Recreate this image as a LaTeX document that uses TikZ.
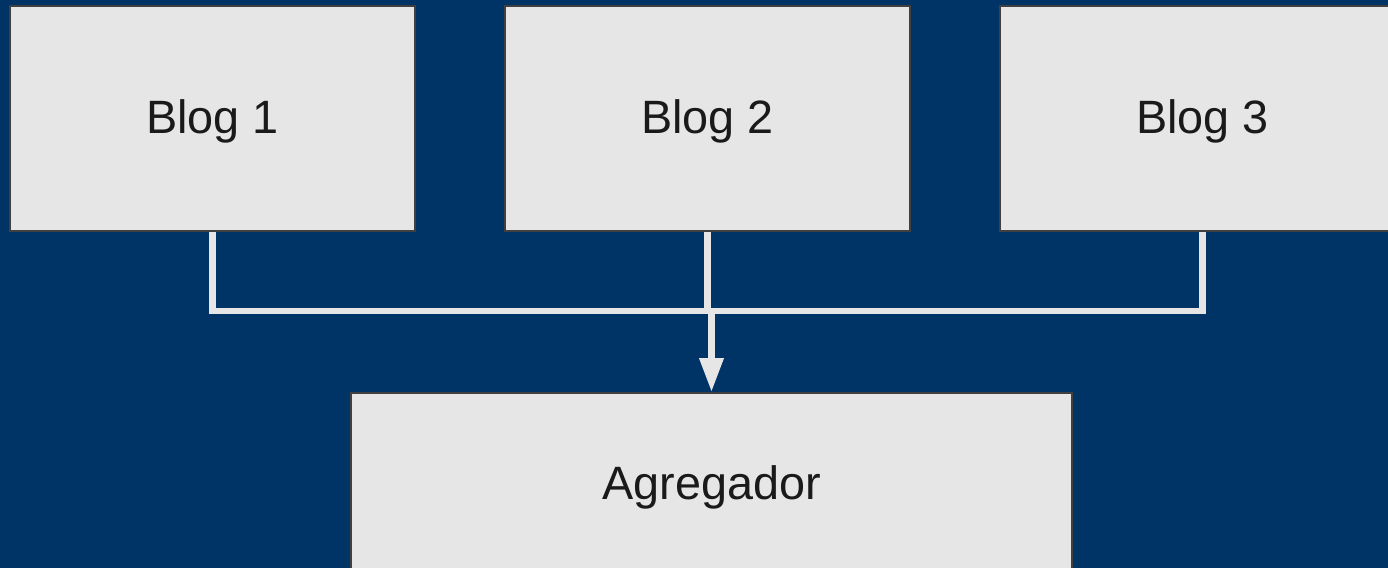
\documentclass[tikz,border=0pt]{standalone}
\usepackage{fontspec}
\setmainfont{Liberation Sans}
\usepackage{tikz}
\usetikzlibrary{arrows.meta,positioning}
\definecolor{bgblue}{HTML}{003366}
\definecolor{boxgray}{HTML}{E6E6E6}
\definecolor{txtgray}{HTML}{1A1A1A}
\tikzset{
     blog/.style={draw=black!75, fill=boxgray, line width=0.5pt, rectangle,
                  minimum width=4.05cm, minimum height=2.25cm,
                  text height=0.34cm, text depth=0.036cm,
                  text=txtgray, font=\fontsize{13.3}{16}\selectfont},
     aggbox/.style={blog, minimum width=7.2cm, minimum height=1.82cm},
     link/.style={draw=boxgray, line width=1.9pt},
}
\tikzset{>=latex}

\begin{document}
\begin{tikzpicture}[x=0.01cm,y=-0.01cm]
		% background and page size
		\fill[bgblue] (0,0) rectangle (1388,568);
		\useasboundingbox (0,0) rectangle (1388,568);

		\node[blog] (b1) at (212.5,118.5) {Blog 1};
		\node[blog] (b2) at (707.5,118.5) {Blog 2};
		\node[blog] (b3) at (1202.5,118.5) {Blog 3};
		\node[aggbox] (agg) at (711.5,484) {Agregador};

		\coordinate (bus) at (711.5,311);

		\draw[link] (b1.south) |- (bus) -| (b3.south);
		\draw[link] (b2.south) -- (b2.south |- bus);
		\draw[link,-{Triangle[width=0.23cm,length=0.34cm]}] (bus) -- (agg.north);
\end{tikzpicture}
\end{document}
